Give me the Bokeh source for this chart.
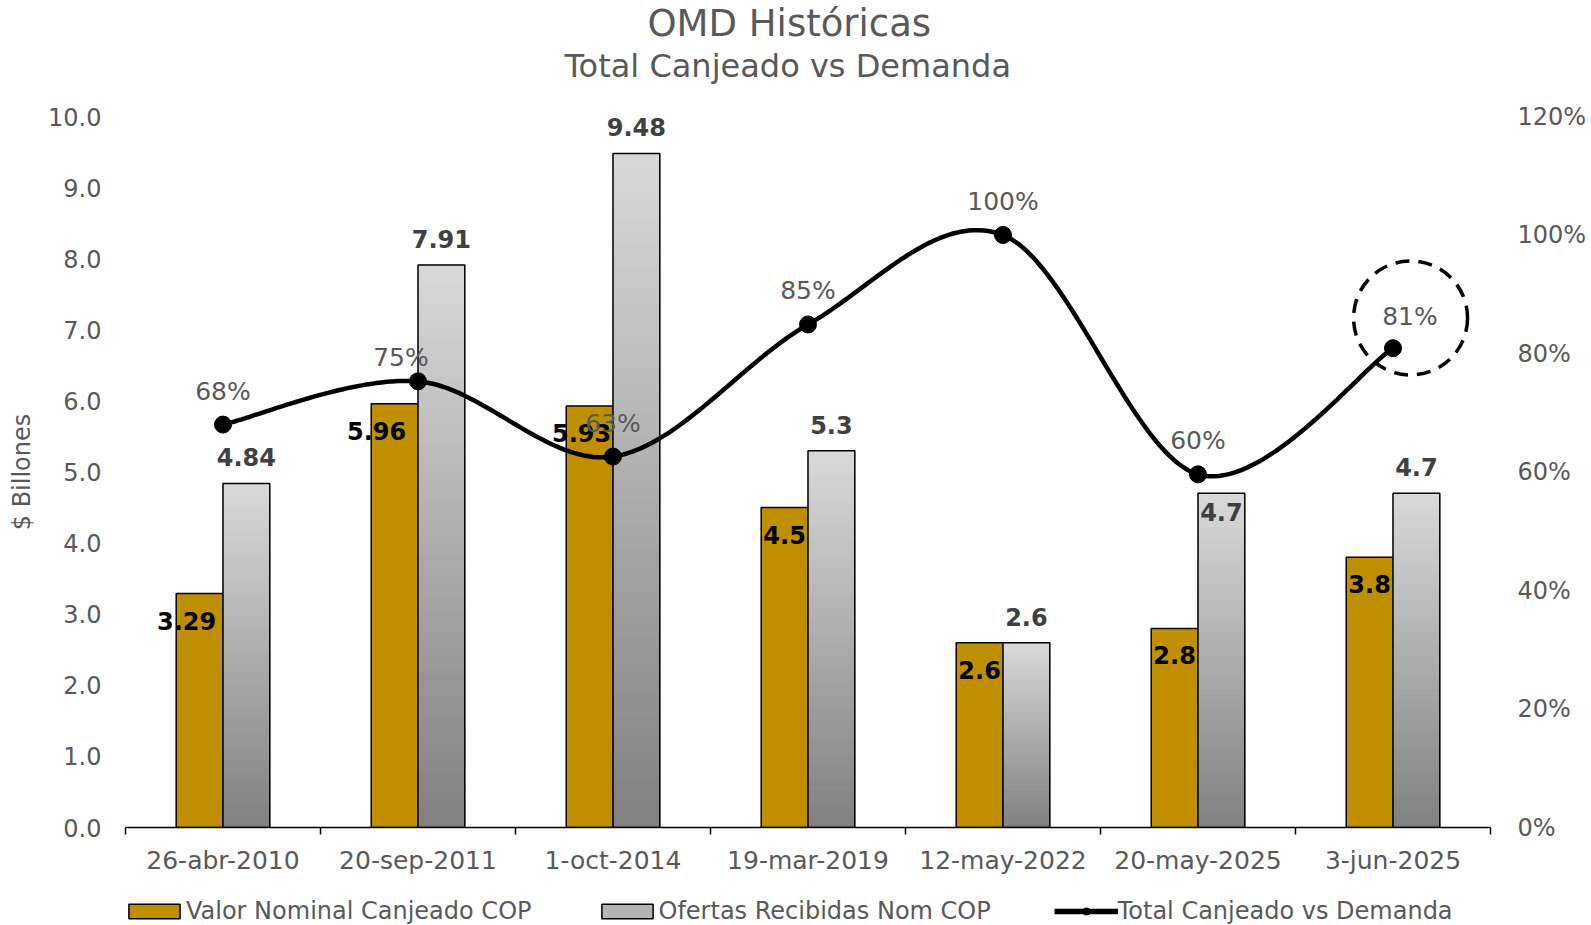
import numpy as np
from bokeh.plotting import figure
from bokeh.layouts import column
from bokeh.models import (Range1d, LinearAxis, FixedTicker, NumeralTickFormatter,
                          PrintfTickFormatter, ColumnDataSource, Legend, LegendItem, Title)
from bokeh.core.properties import value
from bokeh.embed import file_html
from bokeh.resources import INLINE

# ---------------- data ----------------
categories = ["26-abr-2010", "20-sep-2011", "1-oct-2014", "19-mar-2019",
              "12-may-2022", "20-may-2025", "3-jun-2025"]
valor_nominal = [3.29, 5.96, 5.93, 4.5, 2.6, 2.8, 3.8]
ofertas = [4.84, 7.91, 9.48, 5.3, 2.6, 4.7, 4.7]
total_pct = [68.0, 75.3, 62.6, 84.9, 100.0, 59.6, 80.9]
valor_labels = ["3.29", "5.96", "5.93", "4.5", "2.6", "2.8", "3.8"]
ofertas_labels = ["4.84", "7.91", "9.48", "5.3", "2.6", "4.7", "4.7"]
pct_labels = ["68%", "75%", "63%", "85%", "100%", "60%", "81%"]

y_ticks = [0, 1, 2, 3, 4, 5, 6, 7, 8, 9, 10]
pct_ticks = [0, 20, 40, 60, 80, 100, 120]

# ---------------- style ----------------
FONT = "DejaVu Sans"
GRAY_TXT = "#595959"
GOLD = "#BF8F00"
BAR_W = 0.24
ofertas_inside = [False, False, False, False, False, True, False]
valor_dx = [-13, -18, -8, 0, 0, 0, 0]
pct_dx = [0, -17, 0, 0, 0, 0, 17]
pct_dy = [-19, -9, -19, -19, -19, -19, -17]
highlight_index = 6
highlight_dx = 0.09
highlight_pct = 86

n = len(categories)
centers = [i + 0.5 for i in range(n)]

FW, FH = 1365, 711
BL, BR = 125, 101
p = figure(frame_width=FW, frame_height=FH, output_backend="svg", toolbar_location=None,
           x_range=Range1d(0, n), y_range=Range1d(0, 10),
           min_border_left=BL, min_border_right=BR, min_border_top=116, min_border_bottom=48,
           title="OMD Históricas")
p.outline_line_color = None
p.xgrid.visible = False
p.ygrid.visible = False
p.background_fill_color = "white"
p.border_fill_color = "white"

p.title.align = "left"
p.title.offset = 522
p.title.text_font = FONT
p.title.text_font_size = "37px"
p.title.text_font_style = "normal"
p.title.text_color = GRAY_TXT
p.title.standoff = -63
p.add_layout(Title(text="Total Canjeado vs Demanda", align="left", offset=439, text_font=FONT,
                   text_font_size="32px", text_font_style="normal", text_color=GRAY_TXT,
                   standoff=63), "above")

# x axis
xa = p.xaxis[0]
xa.ticker = FixedTicker(ticks=centers, minor_ticks=list(range(n + 1)))
xa.major_label_overrides = {c: lab for c, lab in zip(centers, categories)}
xa.major_tick_line_color = None
xa.major_tick_out = 0
xa.minor_tick_line_color = "black"
xa.minor_tick_line_width = 1.5
xa.minor_tick_out = 7
xa.minor_tick_in = 0
xa.axis_line_color = "black"
xa.axis_line_width = 1.5
xa.major_label_text_font = FONT
xa.major_label_text_font_size = "25px"
xa.major_label_text_color = GRAY_TXT
xa.major_label_standoff = 11

# left y axis
ya = p.yaxis[0]
ya.ticker = FixedTicker(ticks=y_ticks)
ya.formatter = NumeralTickFormatter(format="0.0")
ya.axis_line_color = None
ya.major_tick_line_color = None
ya.minor_tick_line_color = None
ya.major_tick_out = 0
ya.major_label_standoff = 24
ya.major_label_text_font = FONT
ya.major_label_text_font_size = "24px"
ya.major_label_text_color = GRAY_TXT
ya.axis_label = "$ Billones"
ya.axis_label_text_font = FONT
ya.axis_label_text_font_size = "24px"
ya.axis_label_text_font_style = "normal"
ya.axis_label_text_color = GRAY_TXT
ya.axis_label_standoff = 9

# right axis
p.extra_y_ranges = {"pct": Range1d(0, 120)}
ra = LinearAxis(y_range_name="pct", ticker=FixedTicker(ticks=pct_ticks),
                formatter=PrintfTickFormatter(format="%d%%"))
ra.axis_line_color = None
ra.major_tick_line_color = None
ra.minor_tick_line_color = None
ra.major_tick_out = 0
ra.major_label_standoff = 27
ra.major_label_text_font = FONT
ra.major_label_text_font_size = "24px"
ra.major_label_text_color = GRAY_TXT
p.add_layout(ra, "right")

# gold bars
gold_x = [c - BAR_W / 2 for c in centers]
gray_x = [c + BAR_W / 2 for c in centers]
src_gold = ColumnDataSource(dict(x=gold_x, top=valor_nominal, lab=valor_labels, dx=valor_dx))
p.vbar(x="x", top="top", bottom=0, width=BAR_W, source=src_gold,
       fill_color=GOLD, line_color="black", line_width=1.5)

# gray gradient bars (light at top, dark at bottom)
top_rgb = np.array([217, 217, 217])
bot_rgb = np.array([128, 128, 128])
N = 60
qx0, qx1, qb, qt, qc = [], [], [], [], []
for xc, h in zip(gray_x, ofertas):
    for k in range(N):
        f = (k + 0.5) / N
        rgb = bot_rgb + (top_rgb - bot_rgb) * f
        qx0.append(xc - BAR_W / 2)
        qx1.append(xc + BAR_W / 2)
        qb.append(h * k / N)
        qt.append(h * (k + 1) / N)
        qc.append("#%02x%02x%02x" % tuple(int(round(v)) for v in rgb))
p.quad(left=qx0, right=qx1, bottom=qb, top=qt, fill_color=qc, line_color=qc, line_width=1)
p.vbar(x=gray_x, top=ofertas, bottom=0, width=BAR_W, fill_color=None,
       line_color="black", line_width=1.5)

# smoothed line (Excel-style Bezier through points)
def bezier_curve(xs, ys, steps=40):
    pts = list(zip(xs, ys))
    outx, outy = [], []
    m = len(pts)
    for i in range(m - 1):
        p0 = np.array(pts[max(i - 1, 0)])
        p1 = np.array(pts[i])
        p2 = np.array(pts[i + 1])
        p3 = np.array(pts[min(i + 2, m - 1)])
        c1 = p1 + (p2 - p0) / 6.0
        c2 = p2 - (p3 - p1) / 6.0
        for t in np.linspace(0, 1, steps, endpoint=(i == m - 2)):
            b = ((1 - t) ** 3) * p1 + 3 * ((1 - t) ** 2) * t * c1 + 3 * (1 - t) * t * t * c2 + t ** 3 * p2
            outx.append(b[0]); outy.append(b[1])
    return outx, outy

cx, cy = bezier_curve(centers, total_pct)
p.line(cx, cy, y_range_name="pct", line_color="black", line_width=4.5)
p.scatter(centers, total_pct, y_range_name="pct", marker="circle", size=17,
          fill_color="black", line_color="black")

# highlight dashed circle
p.scatter([centers[highlight_index] + highlight_dx], [highlight_pct], y_range_name="pct",
          marker="circle", size=114, fill_color=None, line_color="black",
          line_width=3.5, line_dash="14 9")

# labels
p.text(x="x", y="top", text="lab", source=src_gold, x_offset="dx", text_align="center",
       text_baseline="top", y_offset=18, text_font=value(FONT), text_font_size="24px",
       text_font_style="bold", text_color="black")

out_x, out_y, out_t, in_x, in_y, in_t = [], [], [], [], [], []
for xc, h, lab, ins in zip(gray_x, ofertas, ofertas_labels, ofertas_inside):
    if ins:
        in_x.append(xc); in_y.append(h); in_t.append(lab)
    else:
        out_x.append(xc); out_y.append(h); out_t.append(lab)
p.text(out_x, out_y, text=out_t, text_align="center", text_baseline="bottom", y_offset=-17,
       text_font=value(FONT), text_font_size="24px", text_font_style="bold", text_color="#404040")
p.text(in_x, in_y, text=in_t, text_align="center", text_baseline="top", y_offset=10,
       text_font=value(FONT), text_font_size="24px", text_font_style="bold", text_color="#404040")

p.text(centers, total_pct, text=pct_labels, y_range_name="pct", x_offset=pct_dx,
       y_offset=pct_dy, text_align="center", text_baseline="bottom",
       text_font=value(FONT), text_font_size="25px", text_color=GRAY_TXT)

# ---------------- legend strip ----------------
nan = float("nan")
lg = figure(frame_width=FW, frame_height=50, output_backend="svg", toolbar_location=None,
            x_range=Range1d(0, 1), y_range=Range1d(0, 1),
            x_axis_location=None, y_axis_location=None,
            min_border_left=BL, min_border_right=BR, min_border_top=0, min_border_bottom=0)
lg.grid.visible = False
lg.outline_line_color = None
lg.border_fill_color = "white"
lg.background_fill_color = "white"

l_gold = lg.vbar(x=[nan], top=[nan], width=0.1, fill_color=GOLD, line_color="black", line_width=1.5)
l_gray = lg.vbar(x=[nan], top=[nan], width=0.1, fill_color="#B4B4B4", line_color="black", line_width=1.5)
l_line = lg.line(x=[nan, nan], y=[nan, nan], line_color="black", line_width=5.5)
l_pt = lg.scatter(x=[nan], y=[nan], marker="circle", size=16, fill_color="black", line_color="black")

legend = Legend(items=[
    LegendItem(label="Valor Nominal Canjeado COP", renderers=[l_gold]),
    LegendItem(label="Ofertas Recibidas Nom COP", renderers=[l_gray]),
    LegendItem(label="Total Canjeado vs Demanda", renderers=[l_line, l_pt]),
], orientation="horizontal", location=(-3, 2))
legend.label_text_font = FONT
legend.label_text_font_size = "24px"
legend.label_text_color = GRAY_TXT
legend.glyph_width = 64
legend.glyph_height = 18
legend.label_standoff = -2
legend.spacing = 63
legend.padding = 0
legend.margin = 0
legend.border_line_color = None
legend.background_fill_alpha = 0
lg.add_layout(legend)

open("out.html", "w").write(file_html(column(p, lg), INLINE))
